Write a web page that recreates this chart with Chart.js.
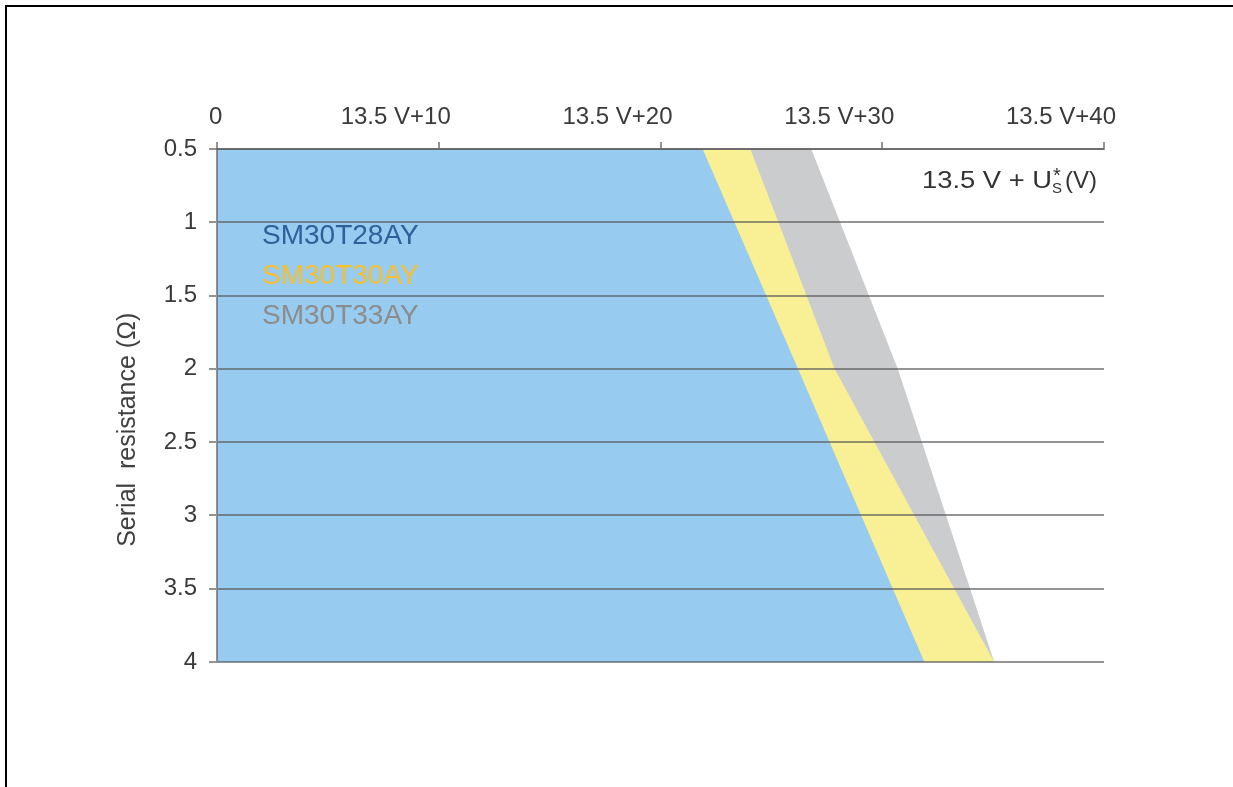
<!DOCTYPE html>
<html>
<head>
<meta charset="utf-8">
<script src="https://cdn.jsdelivr.net/npm/chart.js@4"></script>
<style>
  html, body { margin: 0; padding: 0; background: #fff; overflow: hidden; }
  #marco { position: absolute; left: 5px; top: 5px; width: 1400px; height: 1000px; border: 2px solid #000; }
  #caja  { position: absolute; left: 0; top: 0; width: 1233px; height: 787px; }
</style>
</head>
<body>
<div id="marco"></div>
<div id="caja"><canvas id="grafico"></canvas></div>
<script>
// resistencia serie (ohm) en los puntos de quiebre de cada curva
const resistencia   = [0.5, 2, 4];
// limite de tension: 13.5 V + Us (V) para cada dispositivo
const limiteT28AY   = [21.9, 26.2, 31.9];
const limiteT30AY   = [24.05, 27.85, 35.05];
const limiteT33AY   = [26.8, 30.7, 35.05];
const dispositivos  = ['SM30T28AY', 'SM30T30AY', 'SM30T33AY'];
const ticksTension  = [0, 10, 20, 30, 40];

const RELLENOS = ['#97cbef', '#f9f095', '#cbccce'];
const TEXTOS   = ['#30609a', '#f7bf2a', '#8c8c8c'];
const FUENTE   = '"Liberation Sans", Arial, sans-serif';
const GRIS     = 'rgba(90,90,90,0.65)';

const puntos = lim => resistencia.map((r, i) => ({ x: lim[i], y: r }));

const textos = {
  id: 'textos',
  afterDraw(chart) {
    const { ctx, chartArea: a } = chart;
    ctx.save();
    ctx.textBaseline = 'alphabetic';
    ctx.textAlign = 'left';
    ctx.font = `28px ${FUENTE}`;
    dispositivos.forEach((d, i) => {
      ctx.fillStyle = TEXTOS[i];
      ctx.fillText(d, a.left + 45, a.top + 95 + i * 40);
    });

    // 13.5 V + Us* (V)
    ctx.fillStyle = '#333';
    ctx.font = `24px ${FUENTE}`;
    const base = '13.5 V + U';
    const esc  = 130 / ctx.measureText(base).width;
    ctx.save();
    ctx.translate(a.left + 705, a.top + 39);
    ctx.scale(esc, 1);
    ctx.fillText(base, 0, 0);
    ctx.restore();
    ctx.font = `15px ${FUENTE}`;
    ctx.fillText('S', a.left + 835, a.top + 44);
    ctx.font = `20px ${FUENTE}`;
    ctx.fillText('*', a.left + 836, a.top + 33);
    ctx.font = `24px ${FUENTE}`;
    ctx.fillText('(V)', a.left + 848, a.top + 39);
    ctx.restore();
  }
};

new Chart(document.getElementById('grafico'), {
  type: 'line',
  data: {
    datasets: [
      { label: dispositivos[0], data: puntos(limiteT28AY), backgroundColor: RELLENOS[0] },
      { label: dispositivos[1], data: puntos(limiteT30AY), backgroundColor: RELLENOS[1] },
      { label: dispositivos[2], data: puntos(limiteT33AY), backgroundColor: RELLENOS[2] }
    ].map(d => ({ ...d, fill: 'origin', borderWidth: 0, pointRadius: 0, tension: 0 }))
  },
  options: {
    indexAxis: 'y',
    responsive: true, maintainAspectRatio: false, animation: false,
    layout: { padding: { left: 100, top: 0, right: 129, bottom: 125 } },
    scales: {
      x: {
        type: 'linear', position: 'top', min: 0, max: 40,
        afterBuildTicks: s => { s.ticks = ticksTension.map(v => ({ value: v })); },
        afterFit: s => { s.height = 149; },
        grid: { drawOnChartArea: false, color: GRIS, lineWidth: 2, tickLength: 7, z: 1 },
        border: { color: GRIS, width: 2, z: 1 },
        ticks: {
          align: 'end', labelOffset: 12, padding: 10, color: '#3a3a3a',
          font: { family: FUENTE, size: 24 },
          callback: v => v === 0 ? '0 ' : '13.5 V+' + v
        }
      },
      y: {
        type: 'linear', reverse: true, min: 0.5, max: 4,
        afterFit: s => { s.width = 117; },
        grid: { color: GRIS, lineWidth: 2, tickLength: 8, z: 1 },
        border: { color: GRIS, width: 2, z: 1 },
        ticks: {
          stepSize: 0.5, padding: 12, color: '#3a3a3a', font: { family: FUENTE, size: 24 },
          callback: v => String(v)
        },
        title: {
          display: true, text: 'Serial  resistance (Ω)       ', color: '#404040',
          font: { family: FUENTE, size: 25 }, padding: { top: 13, bottom: 0 }
        }
      }
    },
    plugins: { legend: { display: false }, tooltip: { enabled: false } }
  },
  plugins: [textos]
});
</script>
</body>
</html>
